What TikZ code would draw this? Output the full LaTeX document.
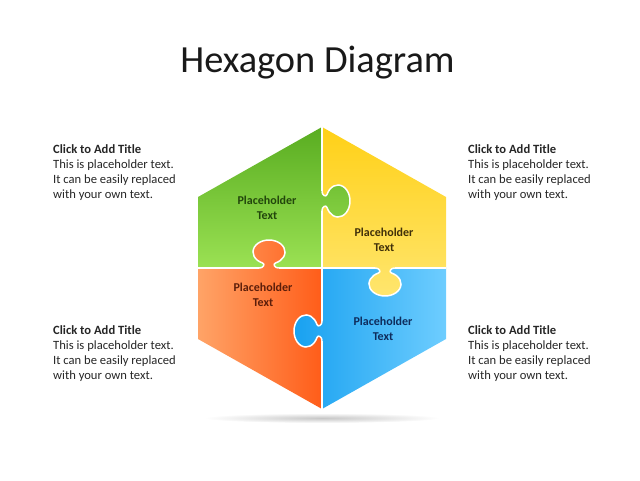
\documentclass[tikz,border=0pt]{standalone}
\usepackage{fontspec}
\setmainfont{Carlito}
\usetikzlibrary{positioning}
\definecolor{greentop}{RGB}{88,172,32}
\definecolor{greenbot}{RGB}{158,228,86}
\definecolor{yellowtop}{RGB}{255,208,22}
\definecolor{yellowbot}{RGB}{255,230,112}
\definecolor{orangelight}{RGB}{255,168,108}
\definecolor{orangedark}{RGB}{255,88,20}
\definecolor{bluedark}{RGB}{22,160,240}
\definecolor{bluelight}{RGB}{112,206,255}
\definecolor{greentext}{RGB}{34,70,12}
\definecolor{yellowtext}{RGB}{64,48,10}
\definecolor{orangetext}{RGB}{92,30,10}
\definecolor{bluetext}{RGB}{14,44,92}
\tikzset {
  x=1pt, y=1pt,
  % heading of the slide
  heading/.style = {font=\fontsize{38.4}{44}\selectfont, text=black!90, anchor=base},
  % side notes
  note/.style = {align=left, inner sep=0pt, anchor=north west,
    font=\fontsize{12.6}{15}\selectfont, text=black!85},
  % puzzle pieces
  greenpiece/.style={top color=greentop, bottom color=greenbot},
  yellowpiece/.style={top color=yellowtop, bottom color=yellowbot},
  orangepiece/.style={left color=orangelight, right color=orangedark},
  bluepiece/.style={left color=bluedark, right color=bluelight},
  % text on the pieces
  label/.style={align=center, font=\fontsize{12}{15}\selectfont\bfseries},
  % white seams between the pieces
  seam/.style={white, line width=2pt},
  tabline/.style={white, line width=1.5pt},
}
% one tab of a piece, drawn along the x axis and sticking out upwards
\newcommand{\tabpath}{(-9.5,0) .. controls (-5.5,0) and (-3.65,4.08) .. (-6.5,5.03)
  arc[start angle=246, end angle=-66, x radius=16, y radius=12]
  .. controls (3.65,4.08) and (5.5,0) .. (9.5,0)}
\newcommand{\puzzletab}[4]{%
  \begin{scope}
    \clip[shift={#1}, rotate=#2] (-9.5,-2) -- \tabpath -- (9.5,-2) -- cycle;
    \shade[#3] #4;
  \end{scope}
  \draw[tabline, shift={#1}, rotate=#2] \tabpath;
}

\begin{document}
\begin{tikzpicture}
  \useasboundingbox (0,0) rectangle (640,480);

  \node[heading] (title) at (317.5,407) {Hexagon Diagram};

  % corners of the hexagon
  \coordinate (T) at (322,353);
  \coordinate (UL) at (198,283);
  \coordinate (ML) at (198,212);
  \coordinate (LL) at (198,141);
  \coordinate (B) at (322,71);
  \coordinate (LR) at (446,141);
  \coordinate (MR) at (446,212);
  \coordinate (UR) at (446,283);
  \coordinate (C) at (322,212);

  % shadow
  \shade[inner color=black!22, outer color=white] (322,62) ellipse [x radius=118, y radius=5];

  \begin{scope}
    \clip (T) -- (UL) -- (ML) -- (C) -- cycle;
    \shade[greenpiece] (190,205) rectangle (360,355);
  \end{scope}
  \begin{scope}
    \clip (T) -- (C) -- (MR) -- (UR) -- cycle;
    \shade[yellowpiece] (315,180) rectangle (450,355);
  \end{scope}
  \begin{scope}
    \clip (ML) -- (LL) -- (B) -- (C) -- cycle;
    \shade[orangepiece] (190,65) rectangle (330,250);
  \end{scope}
  \begin{scope}
    \clip (C) -- (B) -- (LR) -- (MR) -- cycle;
    \shade[bluepiece] (290,65) rectangle (450,220);
  \end{scope}

  \draw[seam] (ML) -- (MR);
  \draw[seam] (T) -- (B);

  \puzzletab{(322,279)}{-90}{greenpiece}{(190,205) rectangle (360,355)}
  \puzzletab{(269,212)}{0}{orangepiece}{(190,65) rectangle (330,250)}
  \puzzletab{(385,212)}{180}{yellowpiece}{(315,180) rectangle (450,355)}
  \puzzletab{(322,149)}{90}{bluepiece}{(290,65) rectangle (450,220)}

  \node[label, text=greentext] (green) at (267,272) {Placeholder\\Text};
  \node[label, text=yellowtext] (yellow) at (384,240) {Placeholder\\Text};
  \node[label, text=orangetext] (orange) at (263,185) {Placeholder\\Text};
  \node[label, text=bluetext] (blue) at (383,151) {Placeholder\\Text};

  \node[note] (noteUL) at (53,335.5) {\textbf{Click to Add Title}\\This is placeholder text.\\It can be easily replaced\\with your own text.};
  \node[note] (noteUR) at (468,335.5) {\textbf{Click to Add Title}\\This is placeholder text.\\It can be easily replaced\\with your own text.};
  \node[note] (noteLL) at (53,154.5) {\textbf{Click to Add Title}\\This is placeholder text.\\It can be easily replaced\\with your own text.};
  \node[note] (noteLR) at (468,154.5) {\textbf{Click to Add Title}\\This is placeholder text.\\It can be easily replaced\\with your own text.};
\end{tikzpicture}
\end{document}
